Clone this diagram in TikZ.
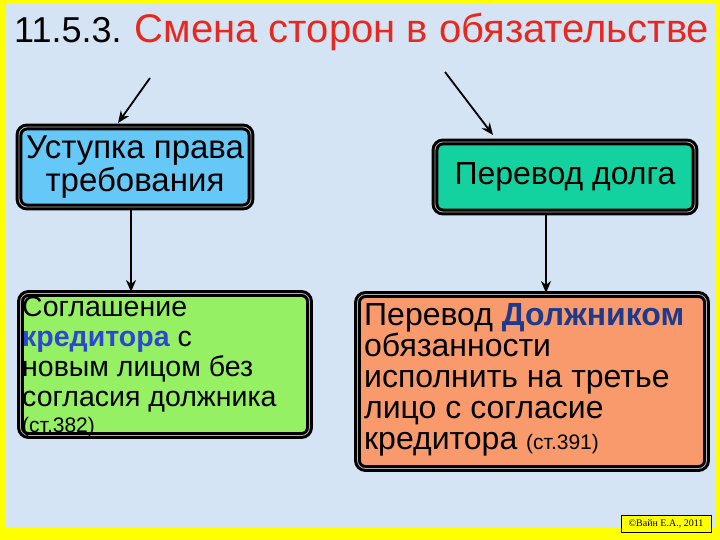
\documentclass[tikz,border=0pt]{standalone}
\usepackage{fontspec}
\setmainfont{Liberation Sans}
\newfontfamily\serifc{Liberation Serif}
\usetikzlibrary{arrows.meta}
\definecolor{bgc}{HTML}{D4E4F4}
\definecolor{ylw}{HTML}{FFFF00}
\definecolor{ttl}{HTML}{E8281E}
\definecolor{bluebox}{HTML}{66C8F6}
\definecolor{tealbox}{HTML}{14D2A0}
\definecolor{greenbox}{HTML}{96F064}
\definecolor{orangebox}{HTML}{F89A6C}
\definecolor{kblue}{HTML}{2C48D0}
\definecolor{dblue}{HTML}{1E3A8C}
\tikzset{
 box/.style={draw=black,line width=3pt,rounded corners=8pt,inner sep=4pt,double=gray!60,double distance=0.8pt},
 arr/.style={line width=1.8pt,-{Stealth[length=12pt,width=10pt]}},
}
\begin{document}
\begin{tikzpicture}[x=1pt,y=-1pt]
\useasboundingbox (0,0) rectangle (720,540);
\fill[ylw] (0,0) rectangle (720,540);
\fill[bgc] (5,3) rectangle (716,528);
\node[anchor=west,inner sep=0pt,font=\fontsize{36}{40}\selectfont] (title) at (14,32) {11.5.3. {\fontsize{40}{40}\selectfont\textcolor{ttl}{Смена сторон в обязательстве}}};
\coordinate (a1s) at (150,78); \coordinate (a2s) at (445,72);
\node[box,fill=bluebox,minimum width=232,minimum height=80,align=center,font=\fontsize{33}{33}\selectfont] (ust) at (135,167) {Уступка права\\требования};
\node[box,fill=tealbox,minimum width=260,minimum height=70,font=\fontsize{32}{32}\selectfont] (perevod) at (565,177) {Перевод долга};
\node[box,fill=greenbox,minimum width=289,minimum height=142,anchor=north west,inner sep=0pt] (sogl) at (19,292) {};
\node[anchor=north west,align=left,inner sep=0pt,font=\fontsize{28.5}{30}\selectfont] (sogltext) at (22,296) {Соглашение\\\textcolor{kblue}{\textbf{кредитора}} с\\новым лицом без\\согласия должника\\[-4pt]{\fontsize{21}{22}\selectfont(ст.382)}};
\node[box,fill=orangebox,minimum width=349,minimum height=174,anchor=north west,inner sep=0pt] (obyaz) at (356,293) {};
\node[anchor=north west,align=left,inner sep=0pt,font=\fontsize{32}{31}\selectfont] (obtext) at (364,303) {Перевод \textcolor{dblue}{\textbf{Должником}}\\обязанности\\исполнить на третье\\лицо с согласие\\кредитора {\fontsize{21}{22}\selectfont(ст.391)}};
\node[draw=black,fill=ylw,font=\serifc\fontsize{10}{11}\selectfont,inner sep=2pt,minimum width=90,minimum height=17] (copy) at (666,524) {©Вайн Е.А., 2011};
\coordinate (a1e) at (118,123); \coordinate (a2e) at (493,135);
\draw[arr] (a1s) -- (a1e);
\draw[arr] (a2s) -- (a2e);
\draw[arr] (ust.south -| 131,0) -- (sogl.north -| 131,0);
\draw[arr] (perevod.south -| 546,0) -- (obyaz.north -| 546,0);
\end{tikzpicture}
\end{document}
